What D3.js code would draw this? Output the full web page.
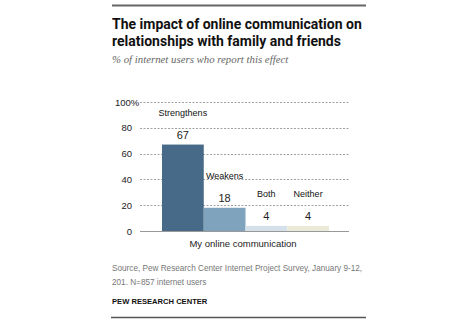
<!DOCTYPE html>
<html>
<head>
<meta charset="utf-8">
<script src="https://cdn.jsdelivr.net/npm/d3@7"></script>
<style>
  body { margin: 0; background: #fff; }
  text { font-family: "Liberation Sans", Arial, sans-serif; }
</style>
</head>
<body>
<div id="chart"></div>
<script>
// donnees
const categories = ["Strengthens", "Weakens", "Both", "Neither"];
const values = [67, 18, 4, 4];
const colors = ["#466a87", "#7fa3bc", "#d5e1ea", "#ebead8"];
const ticks = [0, 20, 40, 60, 80, 100];

const width = 475, height = 324;

const svg = d3.select("#chart").append("svg")
  .attr("width", width)
  .attr("height", height);

// filets haut et bas
svg.append("line").attr("x1", 112).attr("x2", 366).attr("y1", 5.5).attr("y2", 5.5)
  .attr("stroke", "#666").attr("stroke-width", 2);
svg.append("line").attr("x1", 111).attr("x2", 366).attr("y1", 317.5).attr("y2", 317.5)
  .attr("stroke", "#555").attr("stroke-width", 1.5);

// titre
const title = svg.append("text").attr("x", 112).attr("y", 29)
  .style("font-family", "Roboto, sans-serif").style("font-weight", "bold")
  .style("font-size", "14px").attr("fill", "#111");
title.append("tspan").attr("x", 112).text("The impact of online communication on");
title.append("tspan").attr("x", 112).attr("dy", 16.5).text("relationships with family and friends");

svg.append("text").attr("x", 112).attr("y", 63)
  .style("font-family", "'Liberation Serif', Georgia, serif").style("font-style", "italic")
  .style("font-size", "10.8px").attr("fill", "#666")
  .text("% of internet users who report this effect");

// echelles
const y = d3.scaleLinear().domain([0, 100]).range([231, 102]);
const x = d3.scaleBand().domain(categories).range([162, 329]).padding(0);

// grille
const grid = svg.append("g");
grid.selectAll("line").data(ticks.filter(d => d > 0)).enter().append("line")
  .attr("x1", 140).attr("x2", 349)
  .attr("y1", d => Math.round(y(d)) + 0.5).attr("y2", d => Math.round(y(d)) + 0.5)
  .attr("stroke", "#888").attr("stroke-dasharray", "2,1.5").attr("stroke-width", 0.8);

grid.selectAll("text").data(ticks).enter().append("text")
  .attr("x", d => d == 100 ? 115 : 132)
  .attr("y", d => y(d) + 3.5)
  .attr("text-anchor", d => d == 100 ? "start" : "end")
  .style("font-size", "9.5px").attr("fill", "#222")
  .text(d => d == 100 ? "100%" : d);

// barres
svg.selectAll(".bar").data(values).enter().append("rect")
  .attr("class", "bar")
  .attr("x", (d, i) => x(categories[i]))
  .attr("width", x.bandwidth())
  .attr("y", d => y(d))
  .attr("height", d => y(0) - y(d))
  .attr("fill", (d, i) => colors[i]);

// axe zero
svg.append("line").attr("x1", 140).attr("x2", 349).attr("y1", 231.5).attr("y2", 231.5)
  .attr("stroke", "#999").attr("stroke-width", 1);

// etiquettes
svg.selectAll(".val").data(values).enter().append("text")
  .attr("x", (d, i) => x(categories[i]) + x.bandwidth() / 2)
  .attr("y", d => y(d) - 6)
  .attr("text-anchor", "middle")
  .style("font-size", "11px").attr("fill", "#222")
  .text(d => d);

svg.selectAll(".cat").data(values).enter().append("text")
  .attr("x", (d, i) => x(categories[i]) + x.bandwidth() / 2)
  .attr("y", d => y(d) - 29)
  .attr("text-anchor", "middle")
  .style("font-size", "9px").attr("fill", "#111")
  .text((d, i) => categories[i]);

svg.append("text").attr("x", 243).attr("y", 247)
  .attr("text-anchor", "middle")
  .style("font-size", "9.5px").attr("fill", "#222")
  .text("My online communication");

// source
const src = svg.append("text").attr("x", 112).attr("y", 271)
  .style("font-size", "8.2px").attr("fill", "#777");
src.append("tspan").attr("x", 112).text("Source, Pew Research Center Internet Project Survey, January 9-12,");
src.append("tspan").attr("x", 112).attr("dy", 14).text("201. N=857 internet users");

svg.append("text").attr("x", 112).attr("y", 304)
  .style("font-size", "7.6px").style("font-weight", "bold").attr("fill", "#111")
  .text("PEW RESEARCH CENTER");
</script>
</body>
</html>
